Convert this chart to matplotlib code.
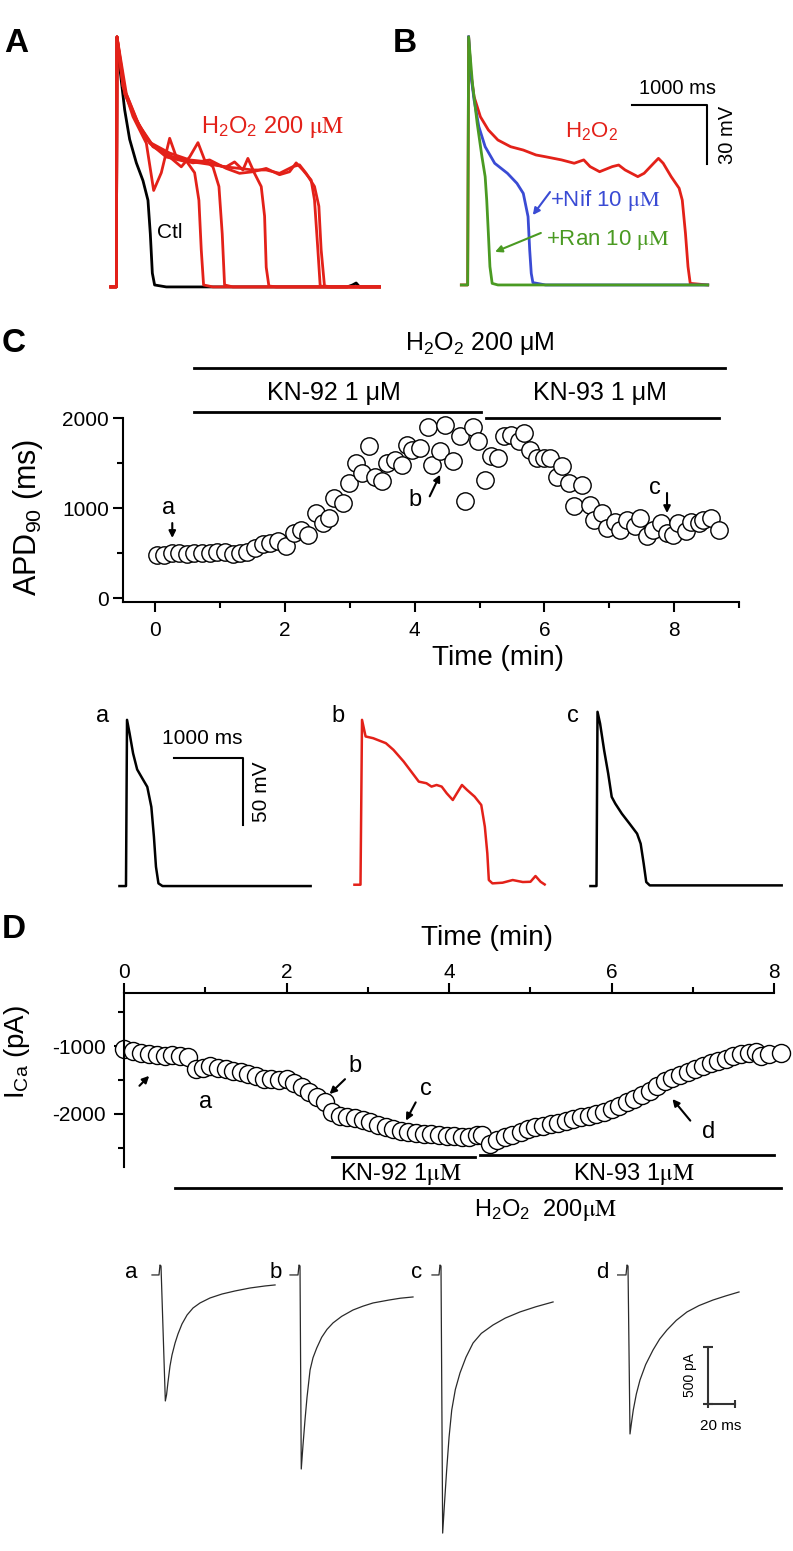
import matplotlib
matplotlib.use('Agg')
import matplotlib.pyplot as plt

plt.rcParams['font.family'] = ['Liberation Sans', 'DejaVu Sans']
plt.rcParams['mathtext.fontset'] = 'stix'
plt.rcParams['mathtext.default'] = 'regular'
plt.rcParams['axes.unicode_minus'] = False

RED = '#e32119'
BLUE = '#3a4bd4'
GREEN = '#4a9a22'

# ---------------- donnees ----------------
# A : potentiels d'action (ms, mV)
a_ctl_t = [-80, -8, 0, 34, 98, 162, 248, 333, 397, 427, 453, 482, 632, 2950, 3020, 3066, 3110, 3365]
a_ctl_v = [-85, -85, 42, 27, 5, -10, -22, -31, -41, -58, -78, -84, -85, -85, -84, -83, -85, -85]
a_h2o2_t = [
    [-80, -8, 0, 77, 205, 376, 470, 568, 675, 760, 888, 995, 1050, 1080, 1110, 1230, 3365],
    [-80, -8, 0, 77, 205, 376, 547, 675, 824, 931, 1038, 1123, 1230, 1307, 1349, 1379, 1486, 3365],
    [-80, -8, 0, 98, 248, 418, 632, 845, 1059, 1230, 1400, 1507, 1614, 1678, 1763, 1849, 1892, 1913, 1947, 2041, 3365],
    [-80, -8, 0, 120, 290, 461, 717, 974, 1187, 1400, 1571, 1742, 1913, 2084, 2212, 2297, 2383, 2489, 2532, 2575, 2605, 2700, 3365],
    [-80, -8, 0, 98, 269, 440, 675, 931, 1144, 1358, 1571, 1742, 1913, 2084, 2255, 2340, 2425, 2532, 2588, 2617, 2660, 2750, 3365],
]
a_h2o2_v = [
    [-85, -85, 42, 17, 1.5, -12, -36, -27, -9.5, -19, -21, -27, -41, -66, -84, -85, -85],
    [-85, -85, 42, 17, 3, -10, -15.5, -19, -24, -19, -11.7, -20.5, -24, -34, -58, -84, -85, -85],
    [-85, -85, 42, 15, 0, -12, -19, -21, -22, -23, -24, -21.5, -25.6, -19.7, -27.3, -34, -49, -75, -84.5, -85, -85],
    [-85, -85, 42, 13, -3.6, -13.8, -19, -22, -20.5, -24.8, -27.3, -26.5, -24.8, -28, -26.5, -22, -25.6, -30.7, -40.8, -66, -84.5, -85, -85],
    [-85, -85, 42, 13, -2, -12, -17, -20.5, -21.4, -23.9, -24.8, -25.6, -25.6, -27.3, -23.9, -23, -27.3, -34, -44, -66, -84.5, -85, -85],
]

# B
b_h2o2_t = [-98, -13, 0, 30, 73, 158, 265, 393, 564, 734, 905, 1033, 1247, 1418, 1546, 1631, 1759, 1930,
            2015, 2101, 2272, 2357, 2485, 2549, 2613, 2720, 2827, 2869, 2912, 2946, 2976, 3211]
b_h2o2_v = [-85, -85, 41, 22.4, 10.6, 0.4, -6.3, -11.4, -14.8, -16.5, -19, -19.9, -21.5, -23.2, -21.5, -24.9,
            -27.5, -24.9, -24.1, -26.6, -30, -28.3, -23.2, -20.7, -23.2, -30, -35.9, -41.9, -58.8, -75.7, -84.2, -85]
b_nif_t = [0, 30, 73, 137, 222, 350, 521, 649, 734, 798, 820, 841, 863, 1033, 3211]
b_nif_v = [41, 22, 9, -4.6, -14.8, -23.2, -28.3, -33.4, -38.5, -50.3, -67.2, -79.1, -83.8, -85, -85]
b_ran_t = [-98, -13, 0, 51, 115, 179, 222, 243, 265, 286, 316, 393, 3211]
b_ran_v = [-85, -85, 41, 17.4, -2.9, -19.9, -30, -41.9, -58.8, -75.7, -84.2, -85, -85]
b_scale_ms, b_scale_mv = 1000, 30

# C : APD90 au cours du temps
c_time = [0.02, 0.13, 0.25, 0.37, 0.48, 0.60, 0.72, 0.84, 0.95, 1.07, 1.19, 1.30, 1.42, 1.54, 1.66, 1.77,
          1.89, 2.01, 2.13, 2.24, 2.36, 2.48, 2.59, 2.67, 2.75, 2.89, 2.98, 3.10, 3.18, 3.30, 3.38, 3.49,
          3.57, 3.69, 3.80, 3.88, 3.96, 4.08, 4.20, 4.27, 4.39, 4.47, 4.59, 4.70, 4.78, 4.90, 4.98, 5.09,
          5.17, 5.29, 5.37, 5.48, 5.60, 5.68, 5.78, 5.89, 5.99, 6.09, 6.19, 6.27, 6.38, 6.46, 6.58, 6.70,
          6.77, 6.89, 6.97, 7.09, 7.16, 7.28, 7.40, 7.48, 7.58, 7.67, 7.79, 7.89, 7.98, 8.06, 8.18, 8.26,
          8.38, 8.45, 8.57, 8.69]
c_apd = [480, 480, 500, 500, 485, 495, 495, 495, 510, 510, 485, 500, 515, 555, 595, 610,
         630, 575, 720, 760, 705, 945, 835, 890, 1110, 1055, 1280, 1500, 1390, 1685, 1350, 1295,
         1500, 1535, 1480, 1705, 1650, 1665, 1905, 1480, 1630, 1925, 1520, 1795, 1075, 1905, 1740, 1315,
         1575, 1555, 1795, 1815, 1740, 1835, 1650, 1555, 1555, 1555, 1350, 1465, 1280, 1020, 1260, 1035,
         870, 945, 780, 850, 760, 870, 795, 890, 685, 760, 835, 720, 705, 835, 740, 850,
         835, 870, 890, 760]
c_h2o2_span = (0.6, 8.78)
c_kn92_span = (0.6, 5.02)
c_kn93_span = (5.1, 8.69)

# C : traces a, b, c (ms, mV)
ca_t = [-110, -15, 0, 37, 88, 147, 221, 294, 353, 390, 420, 456, 515, 2664]
ca_v = [-85, -85, 39, 29, 14, 2, -4.6, -11, -26, -48, -70.6, -83, -85, -85]
cb_t = [-110, -22, 0, 52, 162, 346, 456, 604, 714, 824, 935, 1008, 1082, 1156, 1229, 1317, 1376, 1450,
        1524, 1634, 1730, 1782, 1818, 1840, 1892, 2039, 2186, 2333, 2444, 2517, 2591, 2650]
cb_v = [-84, -84, 39, 26.6, 25.3, 21.6, 16.6, 7.9, 0.4, -7.1, -8.3, -10.8, -9.6, -10.8, -15.8, -20.8, -15.8,
        -9.6, -13.3, -18.3, -24.5, -40.7, -60.6, -80.5, -83, -82.5, -80.5, -82, -81.8, -77.5, -81.8, -83.8]
cc_t = [-103, -15, 0, 37, 96, 155, 206, 258, 353, 464, 574, 626, 670, 707, 758, 2672]
cc_v = [-85, -85, 45, 36.3, 16.3, -1.1, -18.5, -23.5, -31, -38.4, -45.9, -53.4, -68.3, -82, -84.5, -84.5]
c_scale_ms, c_scale_mv = 1000, 50

# D : ICa au cours du temps
d_time = [0.00, 0.11, 0.21, 0.31, 0.41, 0.50, 0.59, 0.69, 0.79, 0.88, 0.97, 1.06, 1.16, 1.25, 1.34, 1.44,
          1.53, 1.63, 1.72, 1.81, 1.91, 2.00, 2.09, 2.19, 2.28, 2.38, 2.47, 2.56, 2.66, 2.75, 2.84, 2.94,
          3.03, 3.13, 3.22, 3.31, 3.41, 3.50, 3.59, 3.69, 3.78, 3.88, 3.97, 4.06, 4.16, 4.25, 4.34, 4.41,
          4.50, 4.59, 4.69, 4.78, 4.88, 4.97, 5.06, 5.16, 5.25, 5.34, 5.44, 5.53, 5.63, 5.72, 5.81, 5.91,
          6.00, 6.09, 6.19, 6.28, 6.38, 6.47, 6.56, 6.66, 6.75, 6.84, 6.94, 7.03, 7.13, 7.22, 7.31, 7.41,
          7.50, 7.59, 7.69, 7.78, 7.84, 7.94, 8.09]
d_ica = [-1039, -1073, -1098, -1122, -1137, -1146, -1137, -1146, -1156, -1341, -1317, -1293, -1317, -1341,
         -1366, -1380, -1415, -1439, -1478, -1488, -1498, -1488, -1537, -1610, -1683, -1756, -1829, -1966,
         -2024, -2049, -2063, -2088, -2122, -2156, -2195, -2220, -2244, -2268, -2283, -2293, -2293, -2307,
         -2317, -2327, -2341, -2341, -2307, -2307, -2439, -2390, -2341, -2307, -2268, -2220, -2195, -2171,
         -2146, -2132, -2098, -2073, -2049, -2024, -2000, -1966, -1927, -1878, -1829, -1780, -1717, -1659,
         -1585, -1522, -1473, -1424, -1380, -1341, -1293, -1254, -1220, -1185, -1146, -1122, -1098, -1088,
         -1146, -1122, -1098]
d_kn92_span = (2.56, 4.32)
d_kn93_span = (4.38, 8.0)
d_h2o2_span = (0.63, 8.09)

# D : courants a-d (ms, pA)
da_t = [-6, -0.75, 0, 0.75, 4, 4.9, 6.0, 7.5, 9.0, 11.3, 13.5, 16.5, 20.3, 24.8, 30, 37.5, 46.5, 56.3, 67.5, 78.8, 86.3]
da_i = [0, 0, 88, 79, -1111, -1058, -944, -803, -706, -600, -520, -432, -353, -291, -247, -203, -168, -141, -115, -97, -88]
db_t = [-6.75, -0.75, 0, 0.75, 1.7, 3, 4.5, 6, 8.3, 10.5, 13.3, 17, 21, 25.5, 32, 40.5, 48, 55.5, 67.5, 76, 85.5]
db_i = [0, 0, 88, 79, -1711, -1500, -1279, -1080, -838, -730, -644, -550, -480, -423, -365, -309, -275, -247, -221, -205, -194]
dc_t = [-6, -0.75, 0, 0.75, 2, 3.5, 5, 6.8, 8.8, 11.5, 15, 19.5, 24.8, 31, 39.8, 49, 60, 72, 84.8]
dc_i = [0, 0, 88, 79, -2276, -1990, -1720, -1430, -1191, -1010, -864, -725, -600, -515, -441, -380, -326, -280, -238]
dd_t = [-7.5, -0.75, 0, 0.75, 2.25, 3.4, 4.7, 7, 9.75, 14, 19.5, 24.5, 30, 37, 45, 54, 64.5, 74, 84]
dd_i = [0, 0, 88, 79, -1402, -1300, -1191, -1050, -926, -790, -662, -565, -485, -400, -326, -270, -221, -185, -150]
d_scale_pa, d_scale_ms = 500, 20

# ---------------- figure ----------------
W, H = 793, 1551
fig = plt.figure(figsize=(W / 100, H / 100), dpi=100)


def add_ax(x0, y0, x1, y1):
    # boite en pixels, origine en haut a gauche
    return fig.add_axes([x0 / W, 1 - y1 / H, (x1 - x0) / W, (y1 - y0) / H])


def arrow(ax, start, end, color='black'):
    ax.annotate('', xy=end, xytext=start,
                arrowprops=dict(arrowstyle='-|>', color=color, lw=1.5,
                                mutation_scale=10, shrinkA=0, shrinkB=0))


for lab, x, y in [('A', 16, 44), ('B', 405, 44), ('C', 14, 344), ('D', 14, 930)]:
    fig.text(x / W, 1 - y / H, lab, fontsize=24, weight='bold', ha='center', va='center')

# Panel A
axA = add_ax(100, 30, 390, 295)
axA.set_xlim(-218, 3500)
axA.set_ylim(-89.1, 45.5)
axA.set_axis_off()
axA.plot(a_ctl_t, a_ctl_v, color='black', lw=2)
for t, v in zip(a_h2o2_t, a_h2o2_v):
    axA.plot(t, v, color=RED, lw=2)
axA.text(2000, -3.8, r'H$_2$O$_2$ 200 $\mathrm{\mu M}$', color=RED, fontsize=17, ha='center', va='center')
axA.text(679, -57.6, 'Ctl', fontsize=15, ha='center', va='center')

# Panel B
axB = add_ax(455, 25, 760, 295)
axB.set_xlim(-183, 3913)
axB.set_ylim(-90.1, 47)
axB.set_axis_off()
axB.plot(b_h2o2_t, b_h2o2_v, color=RED, lw=2)
axB.plot(b_nif_t, b_nif_v, color=BLUE, lw=2)
axB.plot(b_ran_t, b_ran_v, color=GREEN, lw=2)
sx, sy = 2197, 6.4
axB.plot([sx, sx + b_scale_ms, sx + b_scale_ms], [sy, sy, sy - b_scale_mv], color='black', lw=1.5)
axB.text(sx + b_scale_ms / 2 + 110, 15, '1000 ms', fontsize=14.5, ha='center', va='center')
axB.text(3470, sy - b_scale_mv / 2, '30 mV', fontsize=14.5, rotation=90, ha='center', va='center')
axB.text(1650, -7.3, r'H$_2$O$_2$', color=RED, fontsize=16, ha='center', va='center')
axB.text(1093, -41.9, r'+Nif 10 $\mathrm{\mu M}$', color=BLUE, fontsize=16, ha='left', va='center')
axB.text(1034, -62, r'+Ran 10 $\mathrm{\mu M}$', color=GREEN, fontsize=16, ha='left', va='center')
arrow(axB, (1093, -37.8), (862, -49.5), BLUE)
arrow(axB, (970, -58.6), (355, -68.2), GREEN)

# Panel C : APD90
axC = add_ax(123, 418, 739, 602)
axC.plot(c_time, c_apd, 'o', ms=12.5, mfc='white', mec='black', mew=1, clip_on=False)
axC.set_xlim(-0.5, 9)
axC.set_ylim(-44, 2000)
for s in ['top', 'right']:
    axC.spines[s].set_visible(False)
for s in ['left', 'bottom']:
    axC.spines[s].set_linewidth(1.5)
axC.set_xticks([0, 2, 4, 6, 8])
axC.set_xticks([1, 3, 5, 7, 9], minor=True)
axC.set_yticks([0, 1000, 2000])
axC.set_yticks([500, 1500], minor=True)
axC.tick_params(which='major', direction='out', length=7, width=1.5, labelsize=15)
axC.tick_params(which='minor', direction='out', length=4, width=1.5)
axC.tick_params(axis='x', pad=7)
axC.tick_params(axis='y', pad=3)
axC.text(-0.154, 0.462, r'APD$_{90}$ (ms)', transform=axC.transAxes, rotation=90,
         fontsize=22, ha='center', va='center')
axC.text(0.609, -0.304, 'Time (min)', transform=axC.transAxes, fontsize=20, ha='center', va='center')
for span, yv in [(c_h2o2_span, 2556), (c_kn92_span, 2067), (c_kn93_span, 2000)]:
    axC.plot(span, [yv, yv], color='black', lw=2, clip_on=False)
axC.text(5.0, 2833, r'H$_2$O$_2$ 200 μM', fontsize=18, ha='center', va='center')
axC.text(2.75, 2278, 'KN-92 1 μM', fontsize=18, ha='center', va='center')
axC.text(6.85, 2278, 'KN-93 1 μM', fontsize=18, ha='center', va='center')
axC.text(0.21, 1000, 'a', fontsize=17, ha='center', va='center')
axC.text(4.0, 1093, 'b', fontsize=17, ha='center', va='center')
axC.text(7.71, 1222, 'c', fontsize=17, ha='center', va='center')
arrow(axC, (0.26, 833), (0.26, 667))
arrow(axC, (4.23, 1130), (4.39, 1370))
arrow(axC, (7.89, 1167), (7.89, 944))

# Panel C : traces
for left, t, v, col, lab in [(100, ca_t, ca_v, 'black', 'a'),
                             (335, cb_t, cb_v, RED, 'b'),
                             (570.5, cc_t, cc_v, 'black', 'c')]:
    ax = add_ax(left, 700, left + 220, 900)
    ax.set_xlim(-392, 2800)
    ax.set_ylim(-95.4, 53.8)
    ax.set_axis_off()
    ax.plot(t, v, color=col, lw=1.8)
    ax.text(-355, 42, lab, fontsize=17, ha='center', va='center')
    if lab == 'a':
        sx, sy = 682, 10.5
        ax.plot([sx, sx + c_scale_ms, sx + c_scale_ms], [sy, sy, sy - c_scale_mv], color='black', lw=1.5)
        ax.text(sx + c_scale_ms / 2 - 90, 25.4, '1000 ms', fontsize=15, ha='center', va='center')
        ax.text(1950, sy - c_scale_mv / 2, '50 mV', fontsize=15, rotation=90, ha='center', va='center')

# Panel D : ICa
axD = add_ax(124, 993, 774, 1167)
axD.plot(d_time, d_ica, 'o', ms=13, mfc='white', mec='black', mew=1, clip_on=False)
axD.set_xlim(0, 8)
axD.set_ylim(-2780, -220)
for s in ['bottom', 'right']:
    axD.spines[s].set_visible(False)
for s in ['left', 'top']:
    axD.spines[s].set_linewidth(1.5)
axD.xaxis.tick_top()
axD.set_xticks([0, 2, 4, 6, 8])
axD.set_xticks([1, 3, 5, 7], minor=True)
axD.set_yticks([-1000, -2000])
axD.set_yticks([-500, -1500, -2500], minor=True)
axD.tick_params(which='major', direction='out', length=7, width=1.5, labelsize=15)
axD.tick_params(which='minor', direction='out', length=4, width=1.5)
axD.tick_params(axis='x', pad=1)
axD.tick_params(axis='y', pad=6)
axD.text(-0.165, 0.661, r'I$_{Ca}$ (pA)', transform=axD.transAxes, rotation=90,
         fontsize=20, ha='center', va='center')
axD.text(0.558, 1.316, 'Time (min)', transform=axD.transAxes, fontsize=20, ha='center', va='center')
axD.plot(d_kn92_span, [-2634, -2634], color='black', lw=2, clip_on=False)
axD.plot(d_kn93_span, [-2610, -2610], color='black', lw=2, clip_on=False)
axD.plot(d_h2o2_span, [-3088, -3088], color='black', lw=2, clip_on=False)
axD.text(3.41, -2878, r'KN-92 1$\mathrm{\mu M}$', fontsize=17, ha='center', va='center')
axD.text(6.28, -2878, r'KN-93 1$\mathrm{\mu M}$', fontsize=17, ha='center', va='center')
axD.text(5.19, -3415, r'H$_2$O$_2$  200$\mathrm{\mu M}$', fontsize=17, ha='center', va='center')
axD.text(1.0, -1829, 'a', fontsize=17, ha='center', va='center')
axD.text(2.84, -1293, 'b', fontsize=17, ha='center', va='center')
axD.text(3.72, -1634, 'c', fontsize=17, ha='center', va='center')
axD.text(7.19, -2268, 'd', fontsize=17, ha='center', va='center')
arrow(axD, (0.19, -1585), (0.31, -1439))
arrow(axD, (2.72, -1488), (2.53, -1707))
arrow(axD, (3.59, -1829), (3.47, -2098))
arrow(axD, (6.97, -2098), (6.75, -1780))

# Panel D : traces de courant
for t0, t, i, lab, lx in [(160, da_t, da_i, 'a', -21.8), (299, db_t, db_i, 'b', -17.6),
                          (440, dc_t, dc_i, 'c', -17.3), (627, dd_t, dd_i, 'd', -18.8)]:
    ax = add_ax(t0 - 10, 1255, t0 + 125, 1545)
    ax.set_xlim(-7.5, 93.75)
    ax.set_ylim(-2381, 176)
    ax.set_axis_off()
    ax.plot(t, i, color='#2a2a2a', lw=0.9)
    ax.text(lx, 26, lab, fontsize=16, ha='center', va='center')
    if lab == 'd':
        sx, sy = 60.75, -635
        ax.plot([sx, sx], [sy, sy - d_scale_pa], color='#333333', lw=1.5, marker='_', ms=7, mew=1.5)
        ax.plot([sx, sx + d_scale_ms], [sy - d_scale_pa] * 2, color='#333333', lw=1.5, marker='|', ms=6, mew=1.5)
        ax.text(47.3, sy - d_scale_pa / 2, '500 pA', fontsize=10, rotation=90, ha='center', va='center')
        ax.text(sx + 9.75, -1332, '20 ms', fontsize=11, ha='center', va='center')

fig.savefig('out.png', dpi=100)
